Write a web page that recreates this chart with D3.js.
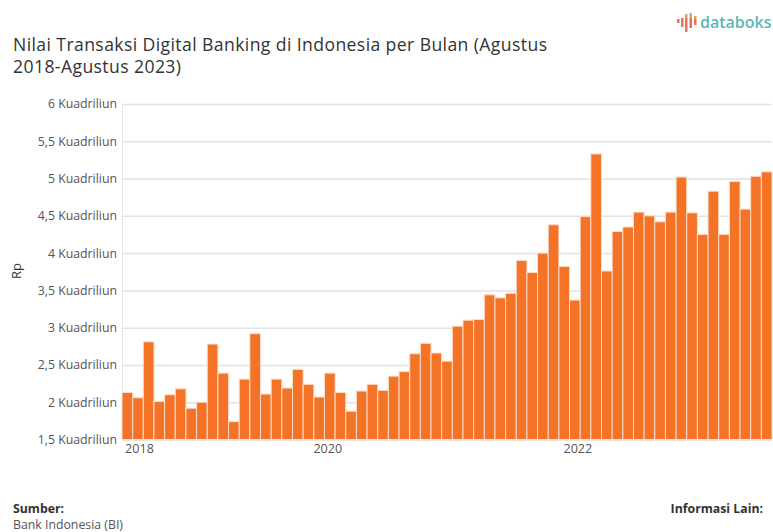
<!DOCTYPE html>
<html lang="id">
<head>
<meta charset="utf-8">
<title>Nilai Transaksi Digital Banking</title>
<script src="https://cdnjs.cloudflare.com/ajax/libs/d3/7.8.5/d3.min.js"></script>
<style>
  html, body { margin: 0; padding: 0; background: #fff; }
  svg { display: block; }
  text { font-family: "Open Sans", "Noto Sans", sans-serif; }
</style>
</head>
<body>
<svg id="chart" width="773" height="532"></svg>
<script>
// Monthly digital banking transactions, Aug 2018 to Aug 2023, in quadrillion rupiah
const months = d3.range(61).map(i => {
  const total = 2018 * 12 + 7 + i;
  return `${Math.floor(total / 12)}-${String(total % 12 + 1).padStart(2, "0")}`;
});
const values = [
  2.13, 2.06, 2.81, 2.01, 2.10, 2.18, 1.92, 2.00, 2.78, 2.39,
  1.74, 2.31, 2.92, 2.11, 2.31, 2.19, 2.44, 2.24, 2.07, 2.39,
  2.13, 1.88, 2.15, 2.24, 2.16, 2.35, 2.41, 2.65, 2.79, 2.66,
  2.55, 3.02, 3.10, 3.11, 3.44, 3.40, 3.46, 3.90, 3.74, 4.00,
  4.38, 3.82, 3.37, 4.49, 5.33, 3.76, 4.29, 4.35, 4.55, 4.50,
  4.42, 4.55, 5.02, 4.54, 4.25, 4.83, 4.25, 4.96, 4.59, 5.03,
  5.09
];
const yTicks = [1.5, 2, 2.5, 3, 3.5, 4, 4.5, 5, 5.5, 6];
const xTickMonths = ["2018-09", "2020-03", "2022-02"];
const xTickLabels = ["2018", "2020", "2022"];
const titleLines = [
  "Nilai Transaksi Digital Banking di Indonesia per Bulan (Agustus",
  "2018-Agustus 2023)"
];

const svg = d3.select("#chart");
const plot = { left: 122, right: 772, top: 104, bottom: 439.5 };

const x = d3.scaleBand().domain(months).range([plot.left, plot.right]).padding(0);
const y = d3.scaleLinear().domain([1.5, 6]).range([plot.bottom, plot.top]);

// Title
svg.append("g").selectAll("text").data(titleLines).join("text")
  .attr("x", 13)
  .attr("y", (d, i) => 51 + i * 22)
  .attr("font-size", 17.6)
  .attr("letter-spacing", 0.4)
  .attr("fill", "#333")
  .text(d => d);

// Brand mark: two-tone bars beside the wordmark
const logo = svg.append("g").attr("transform", "translate(677,0)");
[[0, 19, 4, "#e8705f"], [4, 18, 9, "#e8705f"],
 [8, 14, 4, "#f0a04b"], [8, 18, 14, "#e8705f"],
 [12.5, 13, 5, "#f0a04b"], [12.5, 18, 10, "#e8705f"],
 [17, 16, 3, "#f0a04b"], [17, 19, 6, "#e8705f"]].forEach(([bx, by, bh, c]) => {
  logo.append("rect").attr("x", bx).attr("y", by).attr("width", 2.5).attr("height", bh).attr("fill", c);
});
svg.append("text").attr("x", 700).attr("y", 28.3)
  .attr("font-size", 16).attr("font-weight", 600).attr("fill", "#5cb8b2")
  .text("databoks");

// Y axis with full-width gridlines
const yFormat = v => `${String(v).replace(".", ",")} Kuadriliun`;
const yAxis = svg.append("g")
  .attr("transform", `translate(${plot.left},0)`)
  .call(d3.axisLeft(y).tickValues(yTicks).tickFormat(yFormat)
    .tickSize(-(plot.right - plot.left)).tickPadding(5));
yAxis.select(".domain").attr("stroke", "#e6e6e6");
yAxis.selectAll(".tick line").attr("stroke", "#e2e2e2").attr("stroke-width", 1.5);
yAxis.selectAll(".tick text").attr("font-size", 12.3).attr("fill", "#555")
  .attr("font-family", '"Open Sans", sans-serif');

// Monthly bars
svg.append("g").selectAll("rect").data(values).join("rect")
  .attr("x", (d, i) => x(months[i]))
  .attr("y", d => y(d))
  .attr("width", x.bandwidth())
  .attr("height", d => y(1.5) - y(d))
  .attr("fill", "#f47327")
  .attr("stroke", "#fcdcc8")
  .attr("stroke-width", 1);

// X axis: sparse year labels, nudged off the band centres
const labelOf = new Map(xTickMonths.map((m, i) => [m, xTickLabels[i]]));
const labelNudge = { "2018": 1.5, "2020": -2, "2022": 3 };
const xAxis = svg.append("g")
  .attr("transform", `translate(0,${plot.bottom})`)
  .call(d3.axisBottom(x).tickValues(xTickMonths).tickFormat(m => labelOf.get(m))
    .tickSize(0).tickPadding(5));
xAxis.select(".domain").remove();
xAxis.selectAll(".tick text").attr("font-size", 12.6).attr("fill", "#555")
  .attr("font-family", '"Open Sans", sans-serif')
  .attr("dx", m => labelNudge[labelOf.get(m)]);

// Y axis title
svg.append("text")
  .attr("transform", "translate(20.5,271) rotate(-90)")
  .attr("text-anchor", "middle")
  .attr("font-size", 13).attr("fill", "#333")
  .text("Rp");

// Source footer
svg.append("text").attr("x", 13).attr("y", 513)
  .attr("font-size", 12.3).attr("font-weight", 700).attr("fill", "#333").text("Sumber:");
svg.append("text").attr("x", 13).attr("y", 529)
  .attr("font-size", 12.3).attr("fill", "#555").text("Bank Indonesia (BI)");
svg.append("text").attr("x", 763).attr("y", 513).attr("text-anchor", "end")
  .attr("font-size", 12.3).attr("font-weight", 700).attr("fill", "#333").text("Informasi Lain:");
</script>
</body>
</html>
